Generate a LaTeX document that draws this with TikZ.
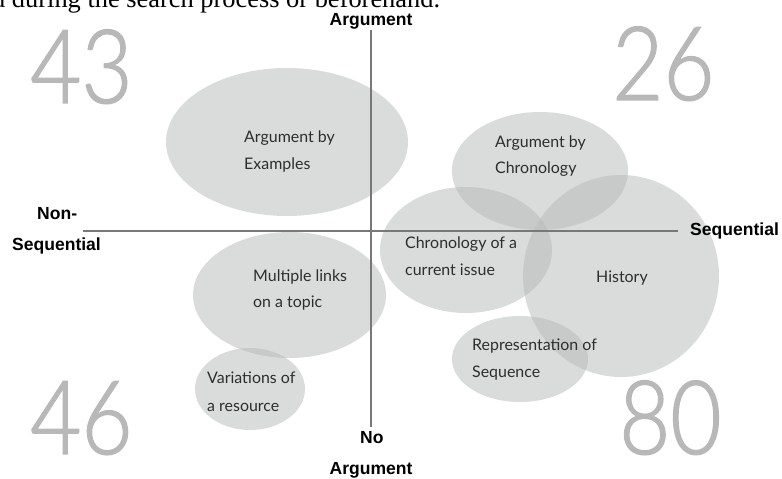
\documentclass[tikz,border=0pt]{standalone}
\usepackage{fontspec}
\setmainfont{Lato}
\newfontfamily\axisfont{Liberation Sans}
\newfontfamily\seriffont{Liberation Serif}
\newfontfamily\numfont[FakeStretch=0.86,FakeBold=1.4]{Lato Light}
\usetikzlibrary{shapes.geometric}
\definecolor{ellc}{RGB}{184,187,187}
\definecolor{labc}{RGB}{45,45,45}
\definecolor{numc}{RGB}{184,184,184}
\definecolor{axc}{RGB}{120,120,120}
\tikzset{
  bubble/.style={ellipse, draw=none, fill=ellc, fill opacity=0.52, inner sep=0pt},
  lbl/.style={anchor=base west, inner sep=0pt, font=\fontsize{16}{16}\selectfont, text=labc},
  axlbl/.style={inner sep=0pt, font=\axisfont\bfseries\fontsize{17.6}{17.6}\selectfont, text=black},
  bignum/.style={anchor=base west, inner sep=0pt, font=\numfont\fontsize{103}{103}\selectfont, text=numc},
  axisline/.style={draw=axc, line width=1.2bp}
}
\begin{document}
\begin{tikzpicture}[x=1bp,y=-1bp]
\useasboundingbox (0,0) rectangle (782,479);
% cut-off text line at the top
\node[anchor=base west, inner sep=0pt, font=\seriffont\fontsize{26.5}{26.5}\selectfont] (topline) at (-8,7.5) {d during the search process or beforehand.};
% big numbers
\node[bignum] (n43) at (30,103) {43};
\node[bignum] (n26) at (612,100) {26};
\node[bignum] (n46) at (30,454) {46};
\node[bignum] (n80) at (619,454) {80};
% bubbles
\node[bubble, minimum width=242bp, minimum height=148bp] (ex) at (287,142) {};
\node[bubble, minimum width=176bp, minimum height=118bp] (chr) at (540,171) {};
\node[bubble, minimum width=172bp, minimum height=126bp] (cur) at (466,250) {};
\node[bubble, minimum width=196bp, minimum height=202bp] (his) at (621,276) {};
\node[bubble, minimum width=193bp, minimum height=126bp] (mul) at (289.5,295) {};
\node[bubble, minimum width=110bp, minimum height=82bp] (var) at (250,389) {};
\node[bubble, minimum width=136bp, minimum height=86bp] (rep) at (520,359) {};
% axes
\coordinate (vtop) at (371,30);
\coordinate (vbot) at (371,427);
\coordinate (hl) at (83,231);
\coordinate (hr) at (678,231);
\draw[axisline] (vtop) -- (vbot);
\draw[axisline] (hl) -- (hr);
% axis labels
\node[axlbl, anchor=base] (argtop) at (371,25.5) {Argument};
\node[axlbl, anchor=base west] (nonseq1) at (37,220) {Non-};
\node[axlbl, anchor=base west] (nonseq2) at (12,251) {Sequential};
\node[axlbl, anchor=base west] (seq) at (690,236) {Sequential};
\node[axlbl, anchor=base west] (noarg1) at (360,443) {No};
\node[axlbl, anchor=base] (noarg2) at (371,474) {Argument};
% bubble labels
\node[lbl] (ex1) at (244,143) {Argument by};
\node[lbl] (ex2) at (244,170) {Examples};
\node[lbl] (chr1) at (495,148) {Argument by};
\node[lbl] (chr2) at (495,174) {Chronology};
\node[lbl] (cur1) at (405,249) {Chronology of a};
\node[lbl] (cur2) at (405,276) {current issue};
\node[lbl] (his1) at (596,283) {History};
\node[lbl] (mul1) at (253,282) {Multiple links};
\node[lbl] (mul2) at (253,308) {on a topic};
\node[lbl] (var1) at (207,383) {Variations of};
\node[lbl] (var2) at (207,411) {a resource};
\node[lbl] (rep1) at (472,350) {Representation of};
\node[lbl] (rep2) at (472,377) {Sequence};
\end{tikzpicture}
\end{document}
